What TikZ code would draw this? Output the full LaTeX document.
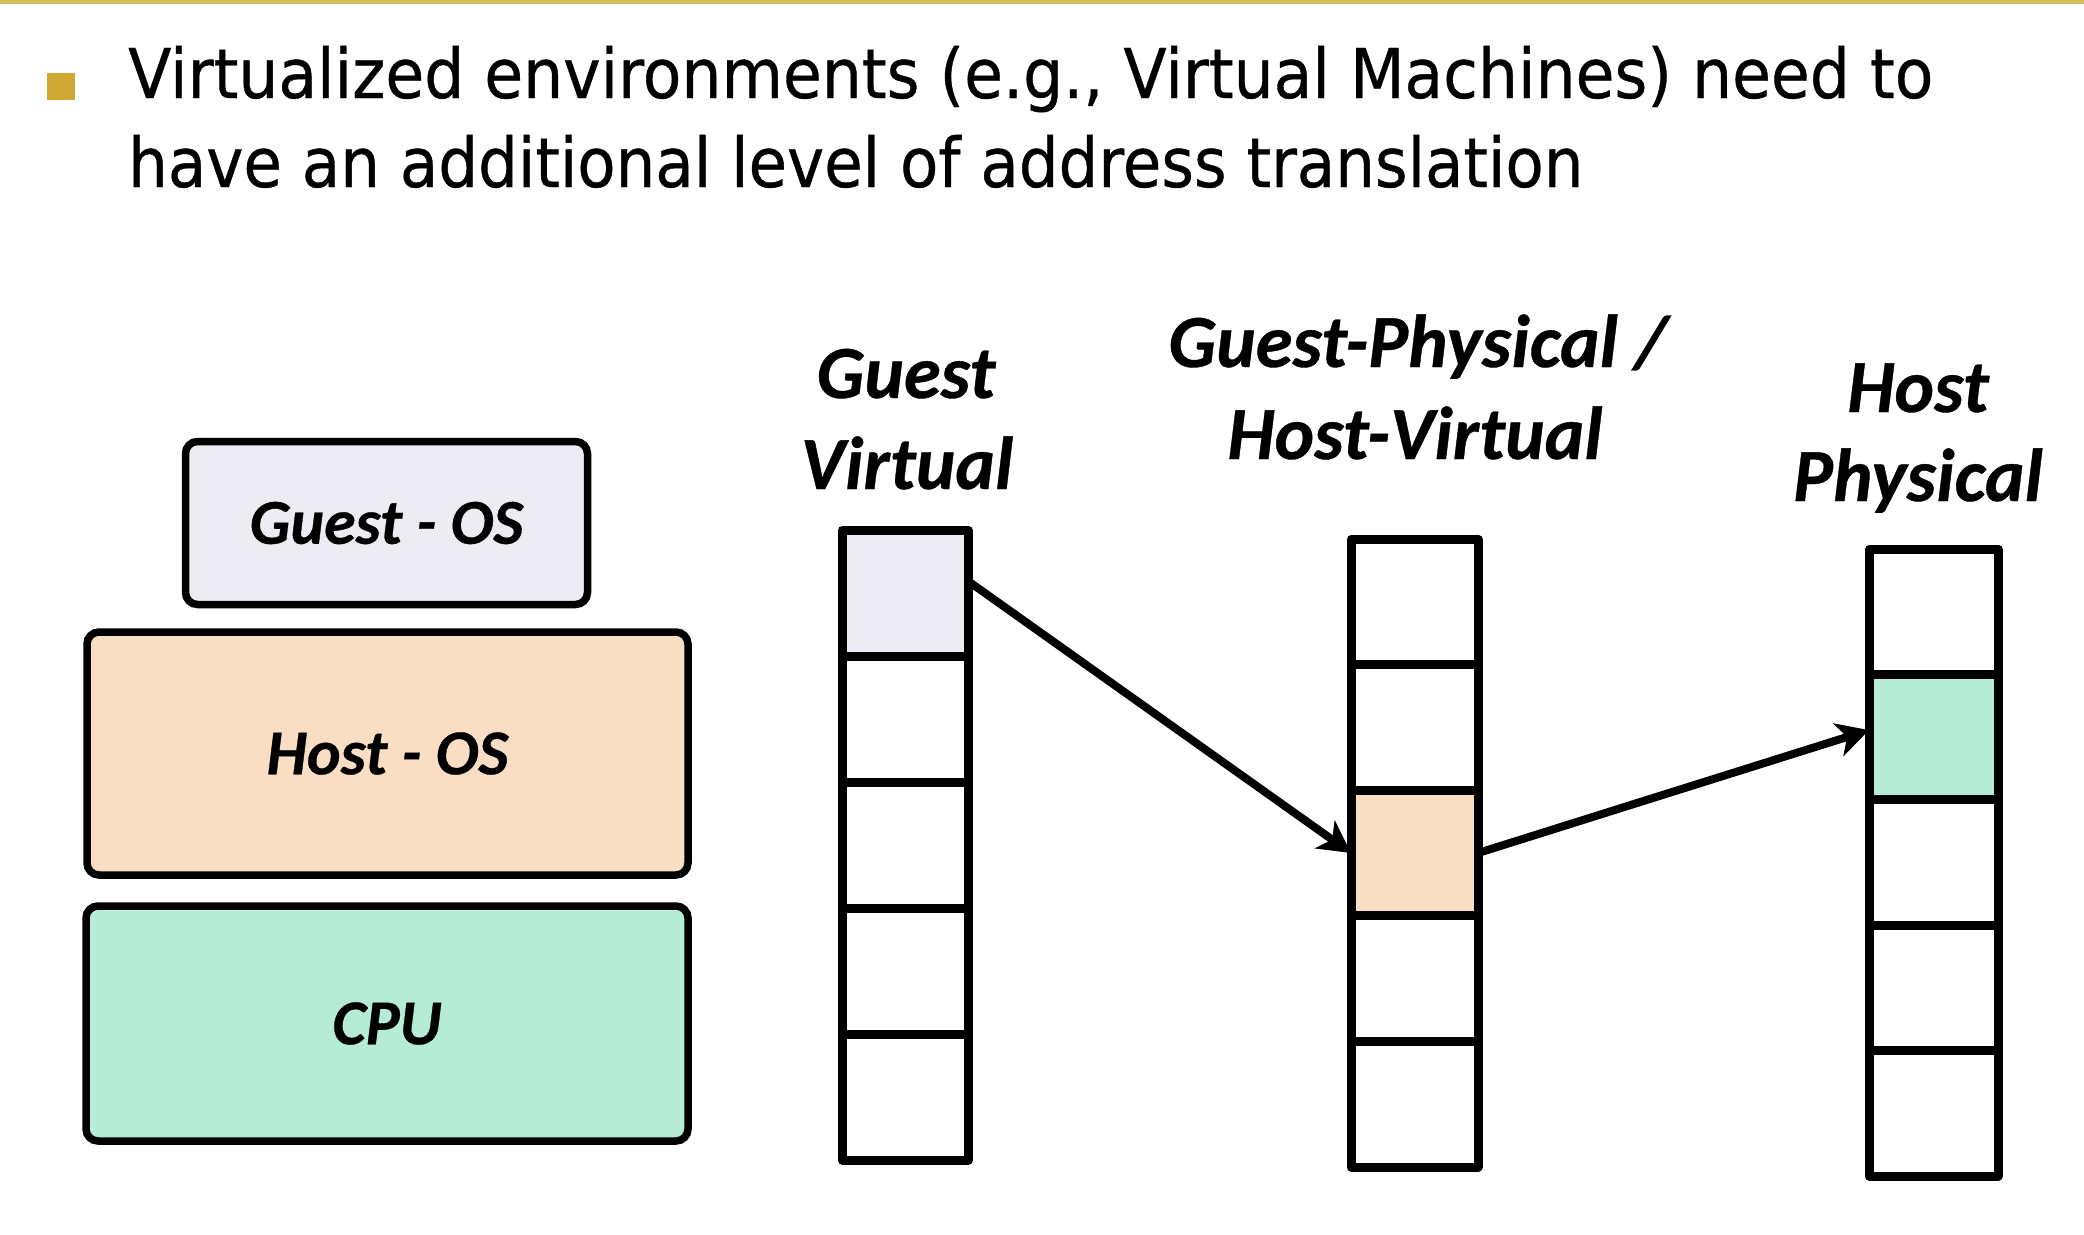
\documentclass[tikz,border=0pt]{standalone}
\usepackage{fontspec}
\usepackage{graphicx}
\usetikzlibrary{arrows.meta}
\newfontfamily\bodyfont[FakeBold=0.6]{DejaVu Sans}
\newfontfamily\labfont[FakeBold=0.5]{Carlito}
\definecolor{gold}{RGB}{208,168,52}
\definecolor{topgold}{RGB}{214,186,96}
\definecolor{lav}{RGB}{237,236,242}
\definecolor{peach}{RGB}{249,222,196}
\definecolor{mint}{RGB}{182,236,214}
\begin{document}
\begin{tikzpicture}[x=1pt,y=-1pt,
  box/.style={draw=black, line width=7.5pt, rounded corners=12pt, inner sep=0pt, outer sep=0pt,
    font=\labfont\bfseries\itshape\fontsize{64}{72}\selectfont},
  cell/.style={draw=black, line width=9pt, line join=round, inner sep=0pt, outer sep=0pt},
  collab/.style={font=\labfont\bfseries\itshape\fontsize{75}{82}\selectfont, inner sep=0pt, anchor=base},
  conn/.style={line width=8pt, -{Stealth[length=32pt,width=34pt,inset=9pt]}},
  bodytext/.style={anchor=base west, inner sep=0pt}
]
\useasboundingbox (0,0) rectangle (2084,1234);
\fill[white] (0,0) rectangle (2084,1234);
% top rule
\draw[topgold, line width=4pt] (0,2) -- (2084,2);
% bullet and text
\node[fill=gold, minimum width=28pt, minimum height=27pt, inner sep=0pt] (bullet) at (61,86.5) {};
\node[bodytext] (line1) at (128,98) {\resizebox{1805pt}{\height}{\bodyfont\fontsize{68.6}{80}\selectfont Virtualized environments (e.g., Virtual Machines) need to}};
\node[bodytext] (line2) at (128,187) {\resizebox{1455pt}{\height}{\bodyfont\fontsize{68.6}{80}\selectfont have an additional level of address translation}};
% stack boxes
\node[box, fill=lav, minimum width=402pt, minimum height=163pt] (guest) at (386.5,523) {Guest - OS};
\node[box, fill=peach, minimum width=601pt, minimum height=243pt] (host) at (387.5,753.5) {Host - OS};
\node[box, fill=mint, minimum width=602pt, minimum height=235pt] (cpu) at (387,1023.5) {CPU};
% columns
\foreach \i/\c in {1/lav,2/white,3/white,4/white,5/white}
  \node[cell, fill=\c, minimum width=126pt, minimum height=126pt] (gv\i) at (905,{530+126*(\i-0.5)}) {};
\foreach \i/\c in {1/white,2/white,3/peach,4/white,5/white}
  \node[cell, fill=\c, minimum width=127pt, minimum height=125.6pt] (gp\i) at (1414.5,{539+125.6*(\i-0.5)}) {};
\foreach \i/\c in {1/white,2/mint,3/white,4/white,5/white}
  \node[cell, fill=\c, minimum width=129pt, minimum height=125.4pt] (hp\i) at (1933.5,{549+125.4*(\i-0.5)}) {};
% column labels
\node[collab] (gvA) at (906,398) {Guest};
\node[collab] (gvB) at (907,489) {Virtual};
\node[collab] (gpA) at (1418,367) {Guest-Physical /};
\node[collab] (gpB) at (1415,459) {Host-Virtual};
\node[collab] (hpA) at (1918,412) {Host};
\node[collab] (hpB) at (1918,501) {Physical};
% arrows
\draw[conn] ([yshift=12pt]gv1.east) -- (gp3.west);
\draw[conn] (gp3.east) -- ([yshift=7pt]hp2.west);
\end{tikzpicture}
\end{document}
